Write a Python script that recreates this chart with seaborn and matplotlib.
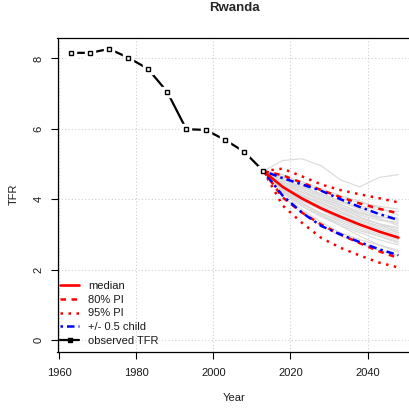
import matplotlib
matplotlib.use("Agg")
import matplotlib.pyplot as plt
from matplotlib.lines import Line2D
import numpy as np
import pandas as pd
import seaborn as sns

# Observed total fertility rate
obs_years = [1963, 1968, 1973, 1978, 1983, 1988, 1993, 1998, 2003, 2008, 2013]
obs_tfr = [8.16, 8.16, 8.27, 8.02, 7.71, 7.06, 5.99, 5.97, 5.69, 5.35, 4.80]

# Projection periods
proj_years = [2013, 2018, 2023, 2028, 2033, 2038, 2043, 2048]
median = [4.80, 4.35, 4.02, 3.74, 3.50, 3.28, 3.08, 2.91]
pi80_upper = [4.80, 4.68, 4.47, 4.26, 4.06, 3.88, 3.73, 3.60]
pi80_lower = [4.80, 4.05, 3.62, 3.28, 3.00, 2.75, 2.52, 2.33]
pi95_upper = [4.80, 4.87, 4.65, 4.42, 4.26, 4.14, 4.03, 3.91]
pi95_lower = [4.80, 3.82, 3.33, 2.90, 2.62, 2.40, 2.20, 2.06]
half_child_upper = [4.80, 4.60, 4.42, 4.24, 4.00, 3.78, 3.58, 3.41]
half_child_lower = [4.80, 4.10, 3.62, 3.24, 3.00, 2.78, 2.58, 2.41]

# Sample of simulated trajectories
trajectories = [
    [4.80, 5.10, 5.15, 4.95, 4.55, 4.35, 4.62, 4.70],
    [4.80, 4.55, 4.35, 4.15, 3.95, 3.80, 3.70, 3.65],
    [4.80, 4.40, 4.10, 3.85, 3.65, 3.45, 3.30, 3.20],
    [4.80, 4.30, 3.95, 3.70, 3.40, 3.20, 3.00, 2.85],
    [4.80, 4.25, 3.80, 3.50, 3.25, 3.05, 2.85, 2.70],
    [4.80, 4.60, 4.45, 4.25, 4.05, 3.90, 3.80, 3.72],
    [4.80, 4.45, 4.20, 4.00, 3.85, 3.65, 3.45, 3.30],
    [4.80, 4.20, 3.70, 3.35, 3.05, 2.85, 2.70, 2.55],
    [4.80, 4.50, 4.30, 4.05, 3.80, 3.55, 3.40, 3.35],
    [4.80, 4.35, 4.05, 3.75, 3.55, 3.35, 3.15, 3.00],
    [4.80, 4.65, 4.50, 4.30, 4.10, 3.95, 3.75, 3.55],
    [4.80, 4.10, 3.60, 3.25, 2.95, 2.75, 2.55, 2.40],
    [4.80, 4.40, 4.05, 3.80, 3.60, 3.40, 3.25, 3.10],
    [4.80, 4.50, 4.25, 4.00, 3.75, 3.50, 3.30, 3.15],
    [4.80, 4.30, 3.90, 3.60, 3.35, 3.15, 2.95, 2.80],
    [4.80, 4.55, 4.30, 4.10, 3.90, 3.75, 3.60, 3.45],
    [4.80, 4.25, 3.85, 3.60, 3.40, 3.25, 3.10, 2.95],
    [4.80, 4.45, 4.15, 3.90, 3.70, 3.50, 3.30, 3.05],
    [4.80, 4.35, 4.00, 3.70, 3.45, 3.30, 3.10, 2.90],
    [4.80, 4.60, 4.35, 4.15, 3.95, 3.70, 3.50, 3.40],
    [4.80, 4.20, 3.80, 3.55, 3.30, 3.10, 2.95, 2.75],
    [4.80, 4.40, 4.10, 3.90, 3.65, 3.40, 3.20, 3.05],
    [4.80, 4.70, 4.40, 4.10, 3.85, 3.60, 3.45, 3.25],
    [4.80, 4.30, 3.90, 3.55, 3.25, 2.95, 2.70, 2.50],
    [4.80, 4.50, 4.20, 3.95, 3.75, 3.60, 3.50, 3.45],
]

x_ticks = [1960, 1980, 2000, 2020, 2040]
y_ticks = [0, 2, 4, 6, 8]

sns.set_theme(style="white")
plt.rcParams["font.family"] = ["Liberation Sans", "DejaVu Sans"]

W = H = 409
fig = plt.figure(figsize=(W / 100, H / 100), dpi=100)
ax = fig.add_axes([57.5 / W, 1 - 351.7 / H, 354 / W, 314 / H])

# Observed series: line broken around each point marker
sns.lineplot(x=obs_years, y=obs_tfr, color="black", lw=1.6, ax=ax, zorder=1.5)
ax.plot(obs_years, obs_tfr, "s", ms=7.5, color="white", zorder=1.8)

traj_df = pd.DataFrame(
    [(i, yr, v) for i, tr in enumerate(trajectories) for yr, v in zip(proj_years, tr)],
    columns=["traj", "year", "tfr"],
)
sns.lineplot(data=traj_df, x="year", y="tfr", units="traj", estimator=None,
             color="#dadada", lw=0.8, ax=ax, zorder=2)

red = "#ff0000"
blue = "#0000ff"
styles = [
    (pi95_upper, red, (0, (1, 2.2)), 1.8),
    (pi95_lower, red, (0, (1, 2.2)), 1.8),
    (pi80_upper, red, (0, (2.2, 2.2)), 1.8),
    (pi80_lower, red, (0, (2.2, 2.2)), 1.8),
    (half_child_upper, blue, (0, (1, 1.6, 3, 1.6)), 1.8),
    (half_child_lower, blue, (0, (1, 1.6, 3, 1.6)), 1.8),
    (median, red, "-", 1.9),
]
for vals, col, ls, lw in styles:
    sns.lineplot(x=proj_years, y=vals, color=col, linestyle=ls, lw=lw,
                 ax=ax, zorder=3)

ax.plot(obs_years, obs_tfr, "s", ms=3.0, mfc="white", mec="black", mew=1.0, zorder=6)

ax.set_xlim(1959.6, 2051.4)
ax.set_ylim(-0.332, 8.59)
ax.set_xticks(x_ticks)
ax.set_yticks(y_ticks)
ax.grid(True, color="#cfcfcf", linestyle=(0, (1, 2)), lw=0.8)
ax.set_axisbelow(True)
for sp in ax.spines.values():
    sp.set_color("black")
    sp.set_linewidth(0.9)
ax.tick_params(bottom=True, left=True, direction="out", length=5, width=0.8,
               color="black", labelsize=8, labelcolor="#1a1a1a")
ax.tick_params(axis="x", pad=7)
ax.tick_params(axis="y", pad=5)
plt.setp(ax.get_yticklabels(), rotation=90, va="center")

ax.set_xlabel("Year", fontsize=8, color="#1a1a1a")
ax.xaxis.label.set_va("center")
ax.xaxis.set_label_coords(0.5, (351.7 - 398.3) / 314)
ax.set_ylabel("TFR", fontsize=8, color="#1a1a1a")
ax.yaxis.label.set_va("center")
ax.yaxis.set_label_coords((13.3 - 57.5) / 354, 0.5)
ax.set_title("Rwanda", fontsize=9.5, fontweight="bold", y=(351.7 - 16) / 314,
             va="center")

handles = [
    Line2D([], [], color=red, lw=1.9),
    Line2D([], [], color=red, lw=1.8, linestyle=(0, (2.2, 2.2))),
    Line2D([], [], color=red, lw=1.8, linestyle=(0, (1, 2.2))),
    Line2D([], [], color=blue, lw=1.8, linestyle=(0, (1, 1.6, 3, 1.6))),
    Line2D([], [], color="black", lw=1.6, marker="s", ms=3.5),
]
labels = ["median", "80% PI", "95% PI", "+/- 0.5 child", "observed TFR"]
ax.legend(handles, labels, loc="lower left", frameon=False, fontsize=8,
          bbox_to_anchor=((60 - 57.5) / 354, (351.7 - 345.5) / 314),
          borderaxespad=0, borderpad=0, handlelength=1.75, handletextpad=0.8,
          labelspacing=0.32, labelcolor="#1a1a1a")

fig.savefig("out.png", dpi=100)
